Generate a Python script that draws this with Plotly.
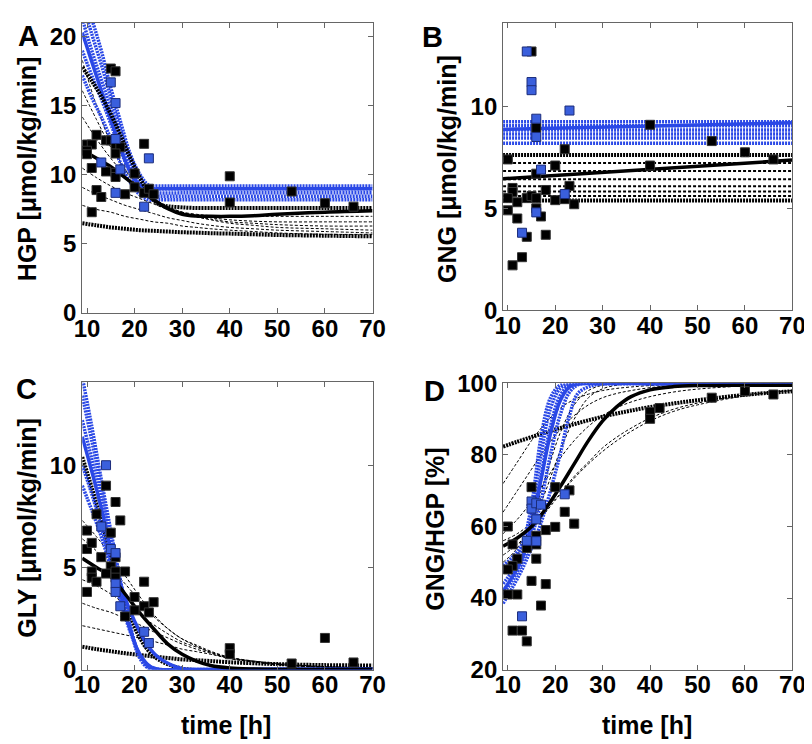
import plotly.graph_objects as go

# ---------------- time grids ----------------
T = [9, 12, 15, 18, 21, 24, 27, 30, 33, 36, 40, 45, 50, 60, 70]
TF = [9, 11, 13, 15, 17, 19, 21, 23, 25, 30, 40, 50, 60, 70]
TB = [9, 70]

# ---------------- Panel A : HGP ----------------
A_BLUE_DOT = [
    [23.5, 21.3, 19.0, 16.3, 13.9, 11.6, 10.1, 9.25, 9.2, 9.2, 9.2, 9.2, 9.2, 9.2],
    [22.5, 20.2, 18.0, 15.6, 13.3, 11.2, 9.8, 9.0, 9.0, 9.0, 9.0, 9.0, 9.0, 9.0],
    [21.3, 19.0, 16.9, 14.8, 12.7, 10.8, 9.5, 8.75, 8.7, 8.7, 8.7, 8.7, 8.7, 8.7],
    [19.0, 17.2, 15.5, 13.7, 11.8, 10.2, 9.0, 8.45, 8.45, 8.45, 8.45, 8.45, 8.45, 8.45],
    [17.2, 15.6, 14.2, 12.6, 10.9, 9.5, 8.6, 8.2, 8.2, 8.2, 8.2, 8.2, 8.2, 8.2],
]
A_BLUE_SOLID = [20.3, 18.2, 16.1, 14.0, 12.0, 10.3, 9.3, 9.0, 9.0, 9.0, 9.0, 9.0, 9.0, 9.0]
A_BLACK_DASH = [
    [18.3, 15.0, 12.3, 10.4, 9.0, 8.2, 7.6, 7.3, 7.15, 7.05, 7.0, 7.0, 7.0, 7.0, 7.0],
    [16.1, 14.0, 12.0, 10.4, 9.2, 8.3, 7.7, 7.3, 7.05, 6.9, 6.75, 6.65, 6.6, 6.6, 6.6],
    [14.2, 12.6, 11.2, 10.0, 9.0, 8.3, 7.7, 7.3, 7.0, 6.8, 6.6, 6.5, 6.4, 6.3, 6.3],
    [10.5, 9.8, 9.2, 8.7, 8.3, 7.9, 7.5, 7.2, 6.95, 6.75, 6.5, 6.35, 6.2, 6.1, 6.0],
    [9.1, 8.6, 8.2, 7.8, 7.5, 7.2, 6.9, 6.7, 6.5, 6.35, 6.2, 6.1, 6.0, 5.9, 5.8],
    [7.8, 7.5, 7.3, 7.0, 6.8, 6.6, 6.5, 6.3, 6.2, 6.1, 6.0, 5.9, 5.8, 5.7, 5.7],
]
A_BLACK_DOT_HI = [17.8, 16.8, 15.7, 14.4, 12.9, 11.3, 9.9, 8.6, 7.9, 7.65, 7.6, 7.6, 7.6, 7.6]
A_BLACK_DOT_LO = [6.5, 6.35, 6.2, 6.1, 6.0, 5.95, 5.9, 5.85, 5.82, 5.78, 5.75, 5.7, 5.65, 5.6, 5.55]
A_BLACK_SOLID = [11.8, 11.2, 10.6, 9.8, 9.0, 8.2, 7.55, 7.15, 7.02, 7.0, 7.0, 7.05, 7.15, 7.3, 7.4]
A_BLK_X = [15, 16, 12, 10, 11, 10, 10, 14, 15, 16, 17, 16, 11, 14, 16, 16, 20, 12, 13, 18, 20,
           22, 22, 23, 24, 11, 40, 40, 53, 60, 66]
A_BLK_Y = [17.7, 17.5, 12.9, 12.2, 12.2, 11.75, 11.5, 12.5, 12.5, 12.2, 12.0, 11.55, 10.5, 10.25,
           10.15, 9.85, 10.1, 8.9, 8.4, 8.6, 9.1, 12.25, 8.7, 9.0, 8.6, 7.3, 9.9, 8.0, 8.8, 7.95, 7.7]
A_BLU_X = [15, 16, 16, 13, 17, 16, 23, 22]
A_BLU_Y = [16.7, 15.2, 12.6, 10.9, 10.4, 8.7, 11.2, 7.7]

# ---------------- Panel B : GNG ----------------
B_BLUE_DOT = [9.25, 9.05, 8.85, 8.65, 8.45, 8.2]
B_BLUE_SOLID = [8.87, 9.2]
B_BLACK_DASH = [7.22, 6.83, 6.43, 6.08, 5.82, 5.6]
B_BLACK_DOT = [7.62, 5.38]
B_BLACK_SOLID = [6.45, 7.37]
B_BLK_X = [15, 16, 22, 10, 20, 16, 11, 11, 18, 23, 10, 14, 15, 16, 20, 22, 12, 24, 10, 16, 17,
           12, 14, 18, 13, 11, 40, 40, 53, 60, 66]
B_BLK_Y = [12.7, 8.95, 7.9, 7.4, 7.1, 6.7, 6.0, 5.8, 5.9, 6.1, 5.5, 5.5, 5.6, 5.5, 5.4, 5.45,
           5.3, 5.2, 4.9, 5.0, 4.6, 4.5, 3.6, 3.7, 2.6, 2.2, 9.1, 7.1, 8.3, 7.75, 7.4]
B_BLU_X = [14, 15, 15, 23, 16, 16, 17, 22, 16, 13]
B_BLU_Y = [12.7, 11.2, 10.8, 9.8, 9.4, 8.5, 6.9, 5.7, 4.8, 3.8]

# ---------------- Panel C : GLY ----------------
C_BLUE_DOT = [
    [14.3, 11.9, 9.3, 6.8, 4.4, 2.2, 0.6, 0.05, 0, 0, 0, 0, 0, 0],
    [13.4, 11.2, 8.9, 6.5, 4.2, 2.2, 0.7, 0.1, 0, 0, 0, 0, 0, 0],
    [12.2, 10.3, 8.3, 6.1, 4.0, 2.1, 0.75, 0.15, 0, 0, 0, 0, 0, 0],
    [10.0, 8.6, 7.0, 5.3, 3.6, 2.0, 0.8, 0.2, 0.02, 0, 0, 0, 0, 0],
    [9.0, 7.8, 6.5, 5.0, 3.4, 1.9, 0.8, 0.2, 0.02, 0, 0, 0, 0, 0],
]
C_BLUE_SOLID = [11.4, 9.7, 7.9, 5.9, 4.2, 2.9, 1.9, 1.1, 0.6, 0.05, 0, 0, 0, 0]
C_BLACK_DOT_HI = [10.4, 8.9, 7.3, 5.6, 3.9, 2.6, 1.6, 0.9, 0.5, 0.05, 0, 0, 0, 0]
C_BLACK_DASH = [
    [7.3, 6.5, 5.6, 4.6, 3.6, 2.7, 2.0, 1.5, 1.15, 0.85, 0.55, 0.38, 0.25, 0.12, 0.08],
    [6.4, 5.8, 5.0, 4.2, 3.4, 2.6, 2.0, 1.5, 1.2, 0.9, 0.6, 0.4, 0.25, 0.12, 0.08],
    [4.4, 4.1, 3.7, 3.2, 2.7, 2.2, 1.75, 1.35, 1.1, 0.85, 0.6, 0.42, 0.28, 0.14, 0.1],
    [3.25, 3.0, 2.8, 2.5, 2.2, 1.85, 1.55, 1.25, 1.0, 0.8, 0.55, 0.38, 0.25, 0.12, 0.08],
    [2.15, 2.0, 1.85, 1.7, 1.55, 1.38, 1.2, 1.0, 0.88, 0.75, 0.55, 0.42, 0.3, 0.15, 0.1],
]
C_BLACK_DOT_LO = [1.12, 1.0, 0.9, 0.8, 0.72, 0.64, 0.57, 0.5, 0.46, 0.42, 0.36, 0.31, 0.27, 0.22, 0.2]
C_BLACK_SOLID = [5.45, 5.0, 4.55, 3.7, 2.8, 2.0, 1.25, 0.75, 0.42, 0.2, 0.08, 0.03, 0.01, 0.0, 0.0]
C_BLK_X = [14, 16, 17, 12, 15, 10, 10, 11, 13, 16, 15, 11, 11, 14, 12, 16, 16, 18, 10, 22, 20,
           24, 22, 23, 20, 18, 40, 40, 53, 60, 66]
C_BLK_Y = [9.0, 8.2, 7.3, 7.6, 6.7, 6.8, 5.9, 6.2, 5.5, 5.5, 5.05, 4.8, 4.5, 4.7, 4.3, 4.8, 4.5,
           4.8, 3.8, 4.3, 3.55, 3.3, 3.1, 2.8, 2.9, 2.6, 1.05, 0.75, 0.3, 1.55, 0.35]
C_BLU_X = [14, 13, 15, 16, 16, 16, 17, 22, 23]
C_BLU_Y = [10.0, 7.0, 5.9, 5.7, 4.2, 3.8, 3.1, 1.85, 1.3]

# ---------------- Panel D : GNG/HGP ----------------
D_BLUE_DOT = [
    [49, 51.5, 55, 66, 85, 96, 99.5, 100, 100, 100, 100, 100, 100, 100],
    [47, 50, 54, 63, 80, 93, 98.5, 99.9, 100, 100, 100, 100, 100, 100],
    [44, 47.5, 52, 60, 74, 88, 96.5, 99.5, 100, 100, 100, 100, 100, 100],
    [41, 45, 50, 57, 67, 80, 91, 97.5, 99.7, 100, 100, 100, 100, 100],
    [38.5, 43, 48, 54, 61, 70, 80, 91, 97.5, 100, 100, 100, 100, 100],
]
D_BLUE_SOLID = [42, 46, 51, 60, 73, 86, 95, 99, 99.9, 100, 100, 100, 100, 100]
D_BLACK_DASH = [
    [72, 78, 84, 89, 93, 95.5, 97, 98, 98.6, 99, 99.4, 99.7, 99.8, 99.9, 100],
    [64, 70, 76, 82, 87, 91, 94, 96, 97.2, 98, 98.8, 99.4, 99.7, 99.9, 100],
    [58, 62, 67, 73, 79, 84, 88, 91, 93.2, 94.8, 96.3, 97.6, 98.4, 99.3, 99.7],
    [52, 55, 59, 64, 69, 74, 78, 82, 85, 87.5, 90.3, 92.8, 94.5, 96.8, 98],
    [56, 58, 61, 65, 69, 73.5, 77.5, 81, 84, 86.6, 89.5, 92.2, 94, 96.5, 98],
    [50, 54, 62, 74, 86, 94, 98, 99.5, 99.9, 100, 100, 100, 100, 100, 100],
    [47, 52, 60, 70, 81, 90, 96, 98.5, 99.5, 99.9, 100, 100, 100, 100, 100],
]
D_BLACK_DOT = [82.3, 83.7, 85, 86.3, 87.5, 88.6, 89.7, 90.7, 91.6, 92.4, 93.4, 94.4, 95.3, 96.8, 97.8]
D_BLACK_SOLID = [54.5, 56.8, 60, 65, 71, 77.5, 84, 89.5, 93.5, 96.3, 98.2, 99.1, 99.4, 99.5, 99.5]
D_BLK_X = [15, 20, 23, 22, 24, 10, 20, 18, 16, 16, 11, 14, 12, 16, 11, 10, 15, 18, 10, 12, 17,
           11, 13, 14, 40, 40, 42, 53, 60, 66]
D_BLK_Y = [71, 71, 70.1, 64.1, 60.8, 60, 59.9, 59, 57.4, 55, 55, 54, 51, 51, 49, 48, 44.8, 43.9,
           41, 41, 37.9, 30.9, 30.9, 27.9, 92, 90.1, 93.1, 96, 97.8, 96.9]
D_BLU_X = [22, 15, 15, 16, 17, 16, 16, 14, 13]
D_BLU_Y = [69, 67, 65, 66.5, 66.1, 62, 55.9, 56, 34.9]

X_TICKS = [10, 20, 30, 40, 50, 60, 70]

# ---------------- styles ----------------
BLUE_LINE = "#2a48e6"
BLUE_MARK = "#3a5fdc"
DOT_HEAVY = "2px,1px"
DASH_THIN = "3px,2px"

fig = go.Figure()


def line(xs, ys, ax, color, width, dash=None):
    fig.add_trace(go.Scatter(
        x=xs, y=ys, xaxis="x" + ax, yaxis="y" + ax, mode="lines",
        line=dict(color=color, width=width, dash=dash, shape="spline", smoothing=1.0),
        showlegend=False, hoverinfo="skip"))


def points(xs, ys, ax, color, edge):
    fig.add_trace(go.Scatter(
        x=xs, y=ys, xaxis="x" + ax, yaxis="y" + ax, mode="markers",
        marker=dict(symbol="square", size=9, color=color, line=dict(color=edge, width=1)),
        showlegend=False, hoverinfo="skip"))


# Panel A
for c in A_BLACK_DASH:
    line(T, c, "", "black", 1, DASH_THIN)
line(T, A_BLACK_DOT_LO, "", "black", 4, DOT_HEAVY)
for c in A_BLUE_DOT:
    line(TF, c, "", BLUE_LINE, 3.5, DOT_HEAVY)
line(TF, A_BLUE_SOLID, "", BLUE_LINE, 3.5)
line(TF, A_BLACK_DOT_HI, "", "black", 4, DOT_HEAVY)
line(T, A_BLACK_SOLID, "", "black", 3.5)
points(A_BLK_X, A_BLK_Y, "", "black", "#333")
points(A_BLU_X, A_BLU_Y, "", BLUE_MARK, "#1b2c7a")

# Panel B
for v in B_BLACK_DASH:
    line(TB, [v, v], "2", "black", 2, DASH_THIN)
for v in B_BLACK_DOT:
    line(TB, [v, v], "2", "black", 4, DOT_HEAVY)
for v in B_BLUE_DOT:
    line(TB, [v, v], "2", BLUE_LINE, 3.5, DOT_HEAVY)
line(TB, B_BLUE_SOLID, "2", BLUE_LINE, 3.5)
line(TB, B_BLACK_SOLID, "2", "black", 3.5)
points(B_BLK_X, B_BLK_Y, "2", "black", "#333")
points(B_BLU_X, B_BLU_Y, "2", BLUE_MARK, "#1b2c7a")

# Panel C
for c in C_BLACK_DASH:
    line(T, c, "3", "black", 1, DASH_THIN)
line(T, C_BLACK_DOT_LO, "3", "black", 4, DOT_HEAVY)
line(TF, C_BLACK_DOT_HI, "3", "black", 4, DOT_HEAVY)
for c in C_BLUE_DOT:
    line(TF, c, "3", BLUE_LINE, 3.5, DOT_HEAVY)
line(TF, C_BLUE_SOLID, "3", BLUE_LINE, 3.5)
line(T, C_BLACK_SOLID, "3", "black", 3.5)
points(C_BLK_X, C_BLK_Y, "3", "black", "#333")
points(C_BLU_X, C_BLU_Y, "3", BLUE_MARK, "#1b2c7a")

# Panel D
for c in D_BLACK_DASH:
    line(T, c, "4", "black", 1, DASH_THIN)
line(T, D_BLACK_DOT, "4", "black", 4, DOT_HEAVY)
for c in D_BLUE_DOT:
    line(TF, c, "4", BLUE_LINE, 3.5, DOT_HEAVY)
line(TF, D_BLUE_SOLID, "4", BLUE_LINE, 3.5)
line(T, D_BLACK_SOLID, "4", "black", 3.5)
points(D_BLK_X, D_BLK_Y, "4", "black", "#333")
points(D_BLU_X, D_BLU_Y, "4", BLUE_MARK, "#1b2c7a")

W, H = 812, 744
TICKFONT = dict(family="Liberation Sans, Arial, sans-serif", size=24, color="black", weight="bold")


def xax(domain, anchor):
    return dict(domain=domain, anchor=anchor, range=[9, 70], tickvals=X_TICKS,
                showline=True, linecolor="#666", linewidth=1, mirror="ticks",
                ticks="inside", ticklen=5, tickcolor="#666", showgrid=False,
                zeroline=False, tickfont=TICKFONT, ticklabelstandoff=-6)


def yax(domain, anchor, rng, tv):
    return dict(domain=domain, anchor=anchor, range=rng, tickvals=tv,
                showline=True, linecolor="#666", linewidth=1, mirror="ticks",
                ticks="inside", ticklen=5, tickcolor="#666", showgrid=False,
                zeroline=False, tickfont=TICKFONT)


def fx(px):
    return px / W


def fy(py):
    return 1 - py / H


fig.update_layout(
    width=W, height=H, margin=dict(l=0, r=0, t=0, b=0),
    paper_bgcolor="white", plot_bgcolor="white", showlegend=False,
    xaxis=xax([fx(68), fx(366)], "y"),
    yaxis=yax([fy(302), fy(1)], "x", [0, 21], [0, 5, 10, 15, 20]),
    xaxis2=xax([fx(500), fx(797)], "y2"),
    yaxis2=yax([fy(299), fy(1)], "x2", [0, 14.1], [0, 5, 10]),
    xaxis3=xax([fx(68), fx(366)], "y3"),
    yaxis3=yax([fy(672), fy(374)], "x3", [0, 14.05], [0, 5, 10]),
    xaxis4=xax([fx(500), fx(797)], "y4"),
    yaxis4=yax([fy(672), fy(375)], "x4", [20, 100], [20, 40, 60, 80, 100]),
)

LABFONT = dict(family="Liberation Sans, Arial, sans-serif", size=25, color="black", weight="bold")
LETFONT = dict(family="Liberation Sans, Arial, sans-serif", size=29, color="black", weight="bold")


def ann(text, x, y, font, angle=0):
    fig.add_annotation(text=text, x=fx(x), y=fy(y), xref="paper", yref="paper",
                       showarrow=False, font=font, textangle=angle,
                       xanchor="center", yanchor="middle")


ann("HGP [μmol/kg/min]", 12, 152, LABFONT, -90)
ann("GNG [μmol/kg/min]", 443, 153, LABFONT, -90)
ann("GLY [μmol/kg/min]", 11, 525, LABFONT, -90)
ann("GNG/HGP [%]", 430, 526, LABFONT, -90)
ann("time [h]", 216, 729, LABFONT)
ann("time [h]", 648, 729, LABFONT)
ann("A", 13, 15, LETFONT)
ann("B", 428, 16, LETFONT)
ann("C", 11, 381, LETFONT)
ann("D", 430, 383, LETFONT)

fig.write_html("out.html")
